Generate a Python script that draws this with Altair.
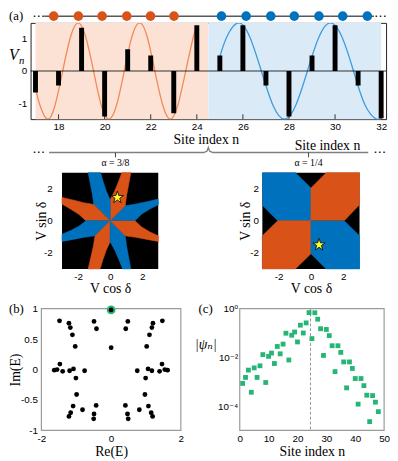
import altair as alt
import pandas as pd

ORANGE = '#d95319'
BLUE = '#0072bd'
GREEN = '#25b574'
SERIF = 'Liberation Serif, DejaVu Serif, serif'
SANS = 'Liberation Sans, DejaVu Sans, sans-serif'
SYM = 'DejaVu Sans, sans-serif'
MINUS_FIX = "replace(datum.label, '\u2212', '-')"
STAR = ('M0,-1 L0.225,-0.309 L0.951,-0.309 L0.363,0.118 L0.588,0.809 L0,0.382 '
        'L-0.588,0.809 L-0.363,0.118 L-0.951,-0.309 L-0.225,-0.309 Z')

# ======================= data: panel (a) =======================
site_index = list(range(17, 33))
site_potential = [-0.67, -0.45, 1.35, -1.42, 0.68, 0.48, -1.32, 1.43,
                  0.48, 1.43, -0.45, -1.42, 0.48, 1.43, -0.45, -1.47]
orange_curve_x = [17.0, 17.19, 17.52, 17.85, 18.18, 18.52, 18.85, 19.18, 19.52,
                  19.85, 20.18, 20.52, 20.85, 21.18, 21.52, 21.85, 22.18, 22.52,
                  22.85, 23.18, 23.52, 23.85, 24.0]
orange_curve_y = [-0.55, -1.06, -1.5, -1.06, 0.0, 1.06, 1.5, 1.06, 0.0,
                  -1.06, -1.5, -1.06, 0.0, 1.06, 1.5, 1.06, 0.0, -1.06,
                  -1.5, -1.06, 0.0, 1.06, 1.37]
blue_curve_x = [25.0, 25.3, 25.8, 26.3, 26.8, 27.3, 27.8, 28.3, 28.8, 29.3, 29.8,
                30.3, 30.8, 31.3, 31.8, 32.0]
blue_curve_y = [0.45, 1.06, 1.5, 1.06, 0.0, -1.06, -1.5, -1.06, 0.0, 1.06, 1.5,
                1.06, 0.0, -1.06, -1.5, -1.43]
region_start = [17.0, 24.5]
region_end = [24.5, 32.0]
region_low = [-1.5, -1.5]
region_high = [1.5, 1.5]
region_fill = ['#fbe2d5', '#dbeaf7']
curve_colors = ['#f2895b', '#3d9be0']
a_tick_values = list(range(18, 33, 2))
a_tick_base = [-1.5]
a_tick_tip = [-1.35]

chain_sites = [17.79, 18.86, 19.89, 20.96, 21.99, 23.01, 25.07, 26.14, 27.21,
               28.23, 29.30, 30.33, 31.40]
chain_colors = [ORANGE] * 6 + [BLUE] * 7
chain_level = [1.71]
chain_span = [17.38, 31.69]

ellipsis_x = [17.14, 31.97, 17.14, 31.93]
ellipsis_y = [1.71, 1.71, -2.54, -2.54]
brace_x = [17.59, 24.3, 24.44, 24.5, 24.56, 24.7, 31.44]
brace_y = [-2.54, -2.54, -2.5, -2.38, -2.5, -2.54, -2.54]
brace_tick_x = [20.47, 28.85]
brace_tick_top = [-2.54, -2.54]
brace_tick_bottom = [-2.69, -2.69]
alpha_x = [20.47, 28.85]
alpha_y = [-2.88, -2.88]
alpha_text = ['\u03b1 = 3/8', '\u03b1 = 1/4']
site_title_x = [24.41, 29.67]
site_title_y = [-2.14, -2.33]
site_title_text = ['Site index n', 'Site index n']

# ======================= data: phase diagrams =======================
# left (alpha = 3/8): edges of the black notches, from the notch vertex to the frame
L_E_up = [(1.55, 0), (1.95, 0.4), (2.45, 0.72), (3.0, 1.0)]
L_E_dn = [(1.55, 0), (1.95, -0.38), (2.45, -0.68), (3.0, -0.94)]
L_NE_b = [(0.94, 0.94), (1.6, 1.04), (2.3, 1.19), (3.0, 1.35)]
L_NE_o = [(0.94, 0.94), (1.03, 1.6), (1.16, 2.3), (1.29, 3.0)]
L_N_b = [(0, 1.31), (-0.24, 1.85), (-0.43, 2.43), (-0.6, 3.0)]
L_N_o = [(0, 1.31), (0.28, 1.85), (0.52, 2.43), (0.73, 3.0)]
L_NW_b = [(-1.02, 1.02), (-1.11, 1.66), (-1.24, 2.33), (-1.37, 3.0)]
L_NW_o = [(-1.02, 1.02), (-1.66, 1.13), (-2.33, 1.3), (-3.0, 1.45)]
L_W_o = [(-1.51, 0), (-1.95, 0.4), (-2.45, 0.72), (-3.0, 1.04)]
L_W_b = [(-1.51, 0), (-1.95, -0.34), (-2.45, -0.6), (-3.0, -0.84)]
L_SW_b = [(-0.94, -0.94), (-1.6, -1.03), (-2.3, -1.16), (-3.0, -1.29)]
L_SW_o = [(-0.94, -0.94), (-1.05, -1.6), (-1.21, -2.3), (-1.37, -3.0)]
L_S_o = [(0, -1.31), (-0.25, -1.85), (-0.45, -2.43), (-0.63, -3.0)]
L_S_b = [(0, -1.31), (0.3, -1.85), (0.55, -2.43), (0.78, -3.0)]
L_SE_b = [(0.94, -0.94), (1.03, -1.6), (1.16, -2.3), (1.29, -3.0)]
L_SE_o = [(0.94, -0.94), (1.6, -1.03), (2.3, -1.16), (3.0, -1.29)]
CENTER = [(0, 0)]
left_polygons = [
    (BLUE, CENTER + L_E_up + L_NE_b[::-1]),
    (ORANGE, CENTER + L_NE_o + L_N_o[::-1]),
    (BLUE, CENTER + L_N_b + L_NW_b[::-1]),
    (ORANGE, CENTER + L_NW_o + L_W_o[::-1]),
    (BLUE, CENTER + L_W_b + L_SW_b[::-1]),
    (ORANGE, CENTER + L_SW_o + L_S_o[::-1]),
    (BLUE, CENTER + L_S_b + L_SE_b[::-1]),
    (ORANGE, CENTER + L_SE_o + L_E_dn[::-1]),
]
right_polygons = [
    (BLUE, [(-3, 3), (-0.96, 3), (0, 2.05), (0, 0), (-2.05, 0), (-3, 0.97)]),
    (ORANGE, [(0, 0), (0, 2.05), (0.94, 3), (3, 3), (3, 1.0), (2.05, 0)]),
    (ORANGE, [(0, 0), (-2.05, 0), (-3, -0.94), (-3, -3), (-0.96, -3), (0, -2.05)]),
    (BLUE, [(0, 0), (0, -2.05), (0.94, -3), (3, -3), (3, -0.94), (2.05, 0)]),
]
left_star = (0.45, 1.45)
right_star = (0.5, -1.5)

# ======================= data: panel (b) =======================
b_re = [-1.48, -1.21, -1.17, -1.11, -1.03, -0.49, -0.42, 0.0, 0.0, 0.42, 0.48, 1.02, 1.10, 1.17, 1.20, 1.47,
        -1.63, -1.55, -1.47, -1.39, -1.19, -1.08, -1.01, -0.76, 0.75, 0.99, 1.06, 1.17, 1.39, 1.46, 1.54, 1.62,
        -0.99, -1.09, -1.16, -1.21, -0.82, -0.43, -0.49, -0.50, 0.41, 0.47, 0.49, 0.81, 0.97, 1.07, 1.15, 1.19]
b_im = [0.80, 0.76, 0.69, 0.57, 0.38, 0.79, 0.67, 0.98, 0.36, 0.67, 0.79, 0.38, 0.57, 0.69, 0.76, 0.80,
        -0.01, 0.0, 0.09, -0.03, -0.02, 0.01, -0.14, -0.02, -0.02, -0.14, 0.01, -0.02, -0.03, 0.09, 0.0, -0.01,
        -0.41, -0.60, -0.71, -0.77, -0.66, -0.59, -0.73, -0.81, -0.59, -0.73, -0.81, -0.66, -0.41, -0.60, -0.71, -0.77]
b_marked_re = [0.0]
b_marked_im = [0.98]

# ======================= data: panel (c) =======================
c_site = list(range(1, 49))
c_psi = [8.5e-4, 1.5e-3, 3.0e-3, 3.7e-4, 3.7e-3, 1.5e-3, 4.5e-3, 1.3e-2, 9.3e-4, 1.1e-2,
         1.5e-2, 5.6e-3, 2.8e-2, 1.4e-2, 3.5e-2, 9.8e-2, 7.8e-3, 8.1e-2, 0.11, 4.3e-2,
         0.21, 0.10, 0.26, 0.69, 5.9e-2, 0.68, 0.37, 0.15, 1.2e-2, 0.14,
         7.8e-2, 3.0e-2, 2.6e-3, 3.0e-2, 1.6e-2, 6.5e-3, 5.6e-4, 6.5e-3, 3.5e-3, 1.35e-3,
         1.2e-4, 1.35e-3, 6.9e-4, 2.8e-4, 2.3e-5, 2.7e-4, 1.45e-4, 5.9e-5]
c_center = [24.5]

one_row = pd.DataFrame({'k': [0]})


def qx(field, scale, axis):
    return alt.X(field, type='quantitative', scale=scale, axis=axis)


def qy(field, scale, axis):
    return alt.Y(field, type='quantitative', scale=scale, axis=axis)


# ======================= panel (a) =======================
XA = alt.Scale(domain=[17, 32], nice=False, zero=False)
YA = alt.Scale(domain=[-1.5, 1.5], nice=False, zero=False)
AXA = alt.Axis(values=a_tick_values, title=None, orient='bottom', labelPadding=3)
AYA = alt.Axis(values=[-1, 0, 1], title=None, orient='left', labelPadding=4, labelExpr=MINUS_FIX)


def xa(f):
    return qx(f, XA, AXA)


def ya(f):
    return qy(f, YA, AYA)


a_bg = alt.Chart(pd.DataFrame({'x1': region_start, 'x2': region_end, 'lo': region_low,
                               'hi': region_high, 'c': region_fill})).mark_rect().encode(
    x=xa('x1'), x2='x2:Q', y=ya('lo'), y2='hi:Q', color=alt.Color('c:N', scale=None))

curve_df = pd.DataFrame({
    'x': orange_curve_x + blue_curve_x,
    'y': orange_curve_y + blue_curve_y,
    'seg': ['o'] * len(orange_curve_x) + ['b'] * len(blue_curve_x),
    'c': [curve_colors[0]] * len(orange_curve_x) + [curve_colors[1]] * len(blue_curve_x)})
a_curves = alt.Chart(curve_df).mark_line(interpolate='natural', strokeWidth=1.3, clip=True).encode(
    x=xa('x'), y=ya('y'), color=alt.Color('c:N', scale=None), detail='seg:N')

a_zero = alt.Chart(pd.DataFrame({'y': [0]})).mark_rule(color='black', strokeWidth=0.8).encode(y=ya('y'))

a_ticks = alt.Chart(pd.DataFrame({'x': a_tick_values, 'y1': a_tick_base * len(a_tick_values),
                                  'y2': a_tick_tip * len(a_tick_values)})).mark_rule(
    color='#333333', strokeWidth=1).encode(x=xa('x'), y=ya('y1'), y2='y2:Q')

a_bars = alt.Chart(pd.DataFrame({'n': site_index, 'v': site_potential})).mark_bar(
    size=5, color='black', clip=True).encode(x=xa('n'), y=ya('v'))

a_chain = alt.Chart(pd.DataFrame({'x1': [chain_span[0]], 'x2': [chain_span[1]], 'y': chain_level})).mark_rule(
    color='black', strokeWidth=1).encode(x=xa('x1'), x2='x2:Q', y=ya('y'))
a_dots = alt.Chart(pd.DataFrame({'x': chain_sites, 'y': chain_level * len(chain_sites),
                                 'c': chain_colors})).mark_circle(size=95, opacity=1).encode(
    x=xa('x'), y=ya('y'), color=alt.Color('c:N', scale=None))
a_ell = alt.Chart(pd.DataFrame({'x': ellipsis_x, 'y': ellipsis_y})).mark_text(
    text='\u22ef', font=SYM, fontSize=13, color='black').encode(x=xa('x'), y=ya('y'))
a_brace = alt.Chart(pd.DataFrame({'x': brace_x, 'y': brace_y, 'i': list(range(len(brace_x)))})).mark_line(
    color='#808080', strokeWidth=1.3).encode(x=xa('x'), y=ya('y'), order='i:Q')
a_brace_ticks = alt.Chart(pd.DataFrame({'x': brace_tick_x, 'y1': brace_tick_top,
                                        'y2': brace_tick_bottom})).mark_rule(
    color='#404040', strokeWidth=1).encode(x=xa('x'), y=ya('y1'), y2='y2:Q')
a_alpha = alt.Chart(pd.DataFrame({'x': alpha_x, 'y': alpha_y, 't': alpha_text})).mark_text(
    font=SERIF, fontSize=10, color='black').encode(x=xa('x'), y=ya('y'), text='t:N')
a_site = alt.Chart(pd.DataFrame({'x': site_title_x, 'y': site_title_y, 't': site_title_text})).mark_text(
    font=SERIF, fontSize=14, color='black').encode(x=xa('x'), y=ya('y'), text='t:N')
a_label = alt.Chart(one_row).mark_text(text='(a)', font=SERIF, fontSize=13, align='left',
                                       baseline='middle', color='black').encode(
    x=alt.value(-22), y=alt.value(-7))
a_v = alt.Chart(one_row).mark_text(text='V', font=SERIF, fontSize=16, fontStyle='italic',
                                   color='black').encode(x=alt.value(-17), y=alt.value(33))
a_vn = alt.Chart(one_row).mark_text(text='n', font=SERIF, fontSize=11, fontStyle='italic',
                                    color='black').encode(x=alt.value(-9), y=alt.value(39))

panel_a = alt.layer(a_bg, a_curves, a_zero, a_ticks, a_bars, a_chain, a_dots, a_ell, a_brace,
                    a_brace_ticks, a_alpha, a_site, a_label, a_v, a_vn).properties(
    width=362, height=98, view=alt.ViewBackground(stroke='#222222', strokeWidth=1))

# ======================= row 2: phase diagrams =======================
YP = alt.Scale(domain=[-3, 3], range=[112, 14], nice=False, zero=False)


def polygons_frame(polys):
    rows = []
    for pid, (col, pts) in enumerate(polys):
        for i, (px, py) in enumerate(pts):
            rows.append({'pid': pid, 'i': i, 'x': px, 'y': py, 'c': col})
    return pd.DataFrame(rows)


def phase_panel(x_range, polys, star, y_offset, label_pad, title_x):
    xs = alt.Scale(domain=[-3, 3], range=x_range, nice=False, zero=False)
    ax = alt.Axis(values=[-2, 0, 2], title='V cos \u03b4', orient='bottom', labelPadding=3,
                  titlePadding=0, labelExpr=MINUS_FIX)
    ay = alt.Axis(values=[-2, 0, 2], title='V sin \u03b4', orient='left', offset=y_offset,
                  labelPadding=label_pad, titleX=title_x, titleY=63, titleAngle=-90,
                  titleAlign='center', titleBaseline='middle', labelExpr=MINUS_FIX)
    bg = alt.Chart(pd.DataFrame({'x1': [-3], 'x2': [3], 'y1': [-3], 'y2': [3]})).mark_rect(
        color='black').encode(x=qx('x1', xs, ax), x2='x2:Q', y=qy('y1', YP, ay), y2='y2:Q')
    poly = alt.Chart(polygons_frame(polys)).mark_line(strokeWidth=0.6).encode(
        x=qx('x', xs, ax), y=qy('y', YP, ay), order='i:Q', detail='pid:N',
        fill=alt.Fill('c:N', scale=None), stroke=alt.Stroke('c:N', scale=None))
    st = alt.Chart(pd.DataFrame({'x': [star[0]], 'y': [star[1]]})).mark_point(
        shape=STAR, filled=True, fill='#ffff33', stroke='black', strokeWidth=0.8, size=170,
        opacity=1).encode(x=qx('x', xs, ax), y=qy('y', YP, ay))
    return alt.layer(bg, poly, st)


row2 = alt.layer(
    phase_panel([32, 130], left_polygons, left_star, -32, 10, -21),
    phase_panel([236, 335], right_polygons, right_star, -236, 4, -17.5),
).resolve_scale(x='independent', y='independent').properties(width=362, height=112)

# ======================= row 3: panels (b) and (c) =======================
XB = alt.Scale(domain=[-2, 2], range=[11, 153], nice=False, zero=False)
YB = alt.Scale(domain=[-1, 1], nice=False, zero=False)
XC = alt.Scale(domain=[0, 50], range=[213, 360], nice=False, zero=False)
YC = alt.Scale(type='log', domain=[1e-5, 1], nice=False)
AXB = alt.Axis(values=[-2, 0, 2], title='Re(E)', orient='bottom', labelPadding=3, titlePadding=2,
               labelExpr=MINUS_FIX)
AYB = alt.Axis(values=[-1, -0.5, 0, 0.5, 1], title='Im(E)', orient='left', offset=-11, labelPadding=4,
               titleX=-26, titleY=62, titleAngle=-90, titleAlign='center', titleBaseline='middle',
               labelExpr="replace(format(datum.value, '~g'), '\u2212', '-')")
AXC = alt.Axis(values=[0, 10, 20, 30, 40, 50], title='Site index n', orient='bottom', labelPadding=3,
               titlePadding=2)
AYC = alt.Axis(values=[1, 0.01, 0.0001], title='|\u03c8\u2099|', orient='left', offset=-213, labelPadding=2,
               titleX=-35, titleY=37, titleAngle=0, titleAlign='center', titleBaseline='middle',
               titleFontStyle='italic',
               labelExpr="datum.value > 0.5 ? '10\u2070' : datum.value > 0.005 ? '10\u207b\u00b2' : '10\u207b\u2074'")

b_frame = alt.Chart(pd.DataFrame({'x1': [-2], 'x2': [2], 'y1': [-1], 'y2': [1]})).mark_rect(
    fillOpacity=0, stroke='#9a9a9a', strokeWidth=1.2).encode(
    x=qx('x1', XB, AXB), x2='x2:Q', y=qy('y1', YB, AYB), y2='y2:Q')
b_mark = alt.Chart(pd.DataFrame({'x': b_marked_re, 'y': b_marked_im})).mark_circle(
    size=80, color=GREEN, opacity=1).encode(x=qx('x', XB, AXB), y=qy('y', YB, AYB))
b_pts = alt.Chart(pd.DataFrame({'x': b_re, 'y': b_im})).mark_circle(
    size=24, color='black', opacity=1).encode(x=qx('x', XB, AXB), y=qy('y', YB, AYB))
b_label = alt.Chart(one_row).mark_text(text='(b)', font=SERIF, fontSize=13, align='left',
                                       baseline='middle', color='black').encode(
    x=alt.value(-22), y=alt.value(0))
panel_b = alt.layer(b_frame, b_mark, b_pts, b_label)

c_frame = alt.Chart(pd.DataFrame({'x1': [0], 'x2': [50], 'y1': [1e-5], 'y2': [1]})).mark_rect(
    fillOpacity=0, stroke='#9a9a9a', strokeWidth=1.2).encode(
    x=qx('x1', XC, AXC), x2='x2:Q', y=qy('y1', YC, AYC), y2='y2:Q')
c_line = alt.Chart(pd.DataFrame({'x': c_center})).mark_rule(
    color='#8a8a8a', strokeDash=[3, 2], strokeWidth=0.9).encode(x=qx('x', XC, AXC))
c_pts = alt.Chart(pd.DataFrame({'x': c_site, 'y': c_psi})).mark_square(
    size=24, color=GREEN, opacity=1).encode(x=qx('x', XC, AXC), y=qy('y', YC, AYC))
c_label = alt.Chart(one_row).mark_text(text='(c)', font=SERIF, fontSize=13, align='left',
                                       baseline='middle', color='black').encode(
    x=alt.value(171), y=alt.value(0))
panel_c = alt.layer(c_frame, c_line, c_pts, c_label)

row3 = alt.layer(panel_b, panel_c).resolve_scale(
    x='independent', y='independent').properties(width=362, height=124)

chart = alt.vconcat(panel_a, row2, row3, spacing=40.5, bounds='flush').properties(
    padding={'top': -3, 'left': 0, 'right': 0, 'bottom': 0}, background='white'
).configure_view(strokeWidth=0).configure_axis(
    labelFont=SANS, labelFontSize=10, labelColor='black', labelFlush=False,
    titleFont=SERIF, titleFontSize=14, titleFontWeight='normal', titleColor='black',
    ticks=False, domain=False, grid=False
)

chart.save('out.html', embed_options={'renderer': 'svg', 'actions': False})
